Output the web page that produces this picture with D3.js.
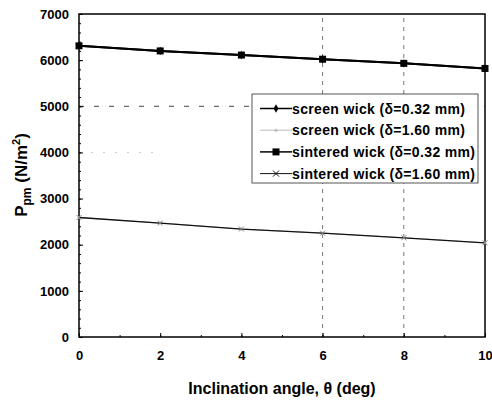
<!DOCTYPE html>
<html>
<head>
<meta charset="utf-8">
<script src="https://cdn.jsdelivr.net/npm/d3@7"></script>
<style>
  body { margin: 0; background: #fff; }
  text { font-family: "Liberation Sans", Arial, sans-serif; font-weight: bold; }
</style>
</head>
<body>
<svg width="492" height="401"></svg>
<script>
// data
const angles = [0, 2, 4, 6, 8, 10];
const screen032 = [6310, 6200, 6110, 6020, 5930, 5820];
const screen160 = [2590, 2470, 2340, 2250, 2150, 2040];
const sintered032 = [6310, 6200, 6110, 6020, 5930, 5820];
const sintered160 = [2590, 2470, 2340, 2250, 2150, 2040];
const xTicks = [0, 2, 4, 6, 8, 10];
const yTicks = [0, 1000, 2000, 3000, 4000, 5000, 6000, 7000];
const seriesNames = [
  "screen wick (\u03b4=0.32 mm)",
  "screen wick (\u03b4=1.60 mm)",
  "sintered wick (\u03b4=0.32 mm)",
  "sintered wick (\u03b4=1.60 mm)"
];

const svg = d3.select("svg");
const margin = { left: 79, right: 7, top: 14, bottom: 64 };
const W = 492, H = 401;

const x = d3.scaleLinear().domain([0, 10]).range([margin.left, W - margin.right]);
const y = d3.scaleLinear().domain([0, 7000]).range([H - margin.bottom, margin.top]);

// dashed grid lines (only the ones that survived in the scan)
const g = svg.append("g");
g.selectAll(".vgrid").data([6, 8]).enter().append("line")
  .attr("x1", d => x(d)).attr("x2", d => x(d))
  .attr("y1", y(0)).attr("y2", y(7000))
  .attr("stroke", "#777").attr("stroke-width", 1).attr("stroke-dasharray", "4,5");
g.append("line")
  .attr("x1", x(0)).attr("x2", x(10)).attr("y1", y(5000)).attr("y2", y(5000))
  .attr("stroke", "#444").attr("stroke-width", 1).attr("stroke-dasharray", "5,10");
g.append("line")
  .attr("x1", x(0)).attr("x2", x(2)).attr("y1", y(4000)).attr("y2", y(4000))
  .attr("stroke", "#ccc").attr("stroke-width", 1).attr("stroke-dasharray", "2,10");

// axes with inward ticks
const yAxis = d3.axisLeft(y).tickValues(yTicks).tickSize(-4).tickPadding(10).tickFormat(d3.format("d"));
const yMinor = d3.axisLeft(y).tickValues(d3.range(0, 7001, 200)).tickSize(-2).tickFormat("");
const xAxis = d3.axisBottom(x).tickValues(xTicks).tickSize(-4).tickPadding(14).tickFormat(d3.format("d"));
const xMinor = d3.axisBottom(x).tickValues(d3.range(0, 11, 1)).tickSize(-2).tickFormat("");

function style(sel) {
  sel.select(".domain").remove();
  sel.selectAll("line").attr("stroke", "#000");
  sel.selectAll("text").attr("font-size", 13).attr("fill", "#000");
}
svg.append("g").attr("transform", `translate(${margin.left},0)`).call(yMinor).call(style);
svg.append("g").attr("transform", `translate(${margin.left},0)`).call(yAxis).call(style);
svg.append("g").attr("transform", `translate(0,${H - margin.bottom})`).call(xMinor).call(style);
svg.append("g").attr("transform", `translate(0,${H - margin.bottom})`).call(xAxis).call(style);

// frame
svg.append("rect")
  .attr("x", x(0)).attr("y", y(7000))
  .attr("width", x(10) - x(0)).attr("height", y(0) - y(7000))
  .attr("fill", "none").attr("stroke", "#000").attr("stroke-width", 1.5);

// series
const series = [
  { name: seriesNames[0], vals: screen032, color: "#000", mcolor: "#000", width: 2, marker: "diamond" },
  { name: seriesNames[1], vals: screen160, color: "#bbb", mcolor: "#bbb", width: 1, marker: "dot" },
  { name: seriesNames[2], vals: sintered032, color: "#000", mcolor: "#000", width: 2, marker: "square" },
  { name: seriesNames[3], vals: sintered160, color: "#111", mcolor: "#888", width: 1.3, marker: "cross" }
];

const line = d3.line().x(d => x(d[0])).y(d => y(d[1]));

function drawMarker(sel, type, color, size) {
  if (type === "square") {
    sel.append("rect").attr("x", -3.5).attr("y", -3.5).attr("width", 7).attr("height", 7).attr("fill", color);
  } else if (type === "diamond") {
    sel.append("path").attr("d", d3.symbol(d3.symbolDiamond, 20)()).attr("fill", color);
  } else if (type === "cross") {
    const r = size || 3;
    sel.append("path").attr("d", `M${-r},${-r}L${r},${r}M${-r},${r}L${r},${-r}`)
      .attr("stroke", color).attr("stroke-width", 1);
  } else {
    sel.append("circle").attr("r", 1.5).attr("fill", color);
  }
}

series.forEach(s => {
  const pts = angles.map((a, i) => [a, s.vals[i]]);
  svg.append("path").datum(pts).attr("d", line)
    .attr("fill", "none").attr("stroke", s.color).attr("stroke-width", s.width);
  svg.selectAll(null).data(pts).enter().append("g")
    .attr("transform", d => `translate(${x(d[0])},${y(d[1])})`)
    .each(function () { drawMarker(d3.select(this), s.marker, s.mcolor, 2.5); });
});

// legend
const lg = svg.append("g").attr("transform", "translate(252,94)");
lg.append("rect").attr("width", 226).attr("height", 89)
  .attr("fill", "#fff").attr("stroke", "#555").attr("stroke-width", 1);
series.forEach((s, i) => {
  const row = lg.append("g").attr("transform", `translate(0,${14.5 + i * 21.7})`);
  row.append("line").attr("x1", 8).attr("x2", 40).attr("y1", 0).attr("y2", 0)
    .attr("stroke", s.color).attr("stroke-width", s.width === 2 ? 1.5 : 1);
  drawMarker(row.append("g").attr("transform", "translate(24,0)"), s.marker, s.color, 3);
  row.append("text").attr("x", 40).attr("y", 5).attr("font-size", 14)
    .attr("letter-spacing", 0.35).attr("fill", "#000").text(s.name);
});

// axis titles
svg.append("text").attr("x", 282).attr("y", 394).attr("text-anchor", "middle")
  .attr("font-size", 16).attr("fill", "#000").text("Inclination angle, \u03b8 (deg)");

const yt = svg.append("text").attr("transform", "translate(27,175) rotate(-90)")
  .attr("text-anchor", "middle").attr("font-size", 17).attr("fill", "#000");
yt.append("tspan").text("P");
yt.append("tspan").attr("font-size", 12).attr("dy", 4).text("pm");
yt.append("tspan").attr("dy", -4).text(" (N/m");
yt.append("tspan").attr("font-size", 11).attr("dy", -7).text("2");
yt.append("tspan").attr("dy", 7).text(")");
</script>
</body>
</html>
